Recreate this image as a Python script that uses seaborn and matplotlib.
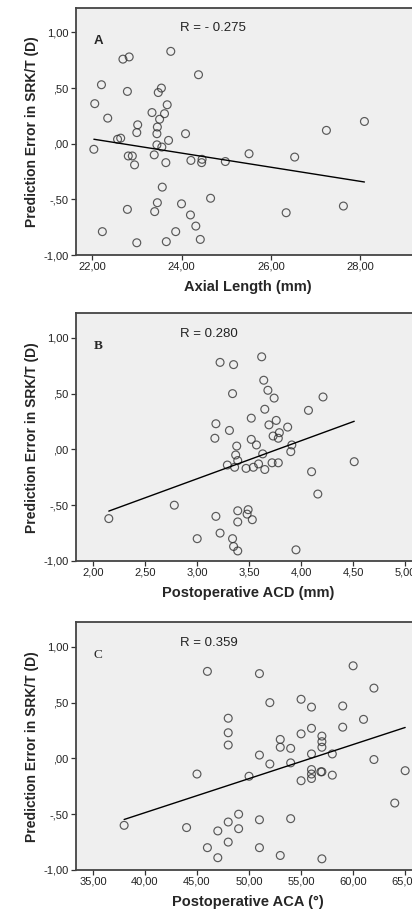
import numpy as np
import pandas as pd
import seaborn as sns
from matplotlib import pyplot as plt

# panel A: axial length vs prediction error
axial_length = [22.04, 22.06, 22.21, 22.35, 22.23, 22.57, 22.64, 22.69, 22.83, 22.79,
                22.81, 22.90, 22.95, 22.79, 23.02, 23.00, 23.00, 23.34, 23.39, 23.40,
                23.45, 23.46, 23.45, 23.46, 23.48, 23.51, 23.55, 23.56, 23.57, 23.62,
                23.68, 23.65, 23.71, 23.66, 23.76, 23.87, 24.00, 24.09, 24.20, 24.21,
                24.32, 24.38, 24.42, 24.46, 24.45, 24.65, 24.98, 25.51, 26.34, 26.53,
                27.24, 27.62, 28.09]
pe_a = [-0.05, 0.36, 0.53, 0.23, -0.79, 0.04, 0.05, 0.76, 0.78, 0.47,
        -0.11, -0.11, -0.19, -0.59, 0.17, 0.10, -0.89, 0.28, -0.10, -0.61,
        0.09, 0.15, -0.01, -0.53, 0.46, 0.22, 0.50, -0.03, -0.39, 0.27,
        0.35, -0.17, 0.03, -0.88, 0.83, -0.79, -0.54, 0.09, -0.64, -0.15,
        -0.74, 0.62, -0.86, -0.14, -0.17, -0.49, -0.16, -0.09, -0.62, -0.12,
        0.12, -0.56, 0.20]

# panel B: postoperative ACD
acd = [2.15, 2.78, 3.00, 3.18, 3.17, 3.18, 3.22, 3.22, 3.31, 3.29,
       3.34, 3.35, 3.34, 3.35, 3.36, 3.37, 3.38, 3.39, 3.39, 3.39,
       3.39, 3.47, 3.48, 3.49, 3.52, 3.52, 3.53, 3.54, 3.57, 3.59,
       3.62, 3.63, 3.64, 3.65, 3.65, 3.68, 3.69, 3.72, 3.73, 3.74,
       3.76, 3.78, 3.79, 3.78, 3.87, 3.90, 3.91, 3.95, 4.07, 4.10,
       4.16, 4.21, 4.51]
pe_b = [-0.62, -0.50, -0.80, 0.23, 0.10, -0.60, 0.78, -0.75, 0.17, -0.14,
        0.50, 0.76, -0.80, -0.87, -0.16, -0.05, 0.03, -0.55, -0.65, -0.91,
        -0.10, -0.17, -0.58, -0.54, 0.28, 0.09, -0.63, -0.16, 0.04, -0.13,
        0.83, -0.04, 0.62, 0.36, -0.18, 0.53, 0.22, -0.12, 0.12, 0.46,
        0.26, 0.10, 0.15, -0.12, 0.20, -0.02, 0.04, -0.90, 0.35, -0.20,
        -0.40, 0.47, -0.11]

# panel C: postoperative ACA
aca = [38.0, 44.0, 45.0, 46.0, 46.0, 47.0, 47.0, 48.0, 48.0, 48.0,
       48.0, 48.0, 49.0, 49.0, 50.0, 51.0, 51.0, 51.0, 51.0, 52.0,
       52.0, 53.0, 53.0, 53.0, 54.0, 54.0, 54.0, 55.0, 55.0, 55.0,
       56.0, 56.0, 56.0, 56.0, 56.0, 56.0, 57.0, 57.0, 57.0, 57.0,
       57.0, 56.9, 58.0, 58.0, 59.0, 59.0, 60.0, 61.0, 62.0, 62.0,
       64.0, 65.0]
pe_c = [-0.60, -0.62, -0.14, 0.78, -0.80, -0.65, -0.89, 0.36, 0.23, 0.12,
        -0.57, -0.75, -0.50, -0.63, -0.16, 0.76, 0.03, -0.55, -0.80, 0.50,
        -0.05, 0.17, 0.10, -0.87, 0.09, -0.04, -0.54, 0.53, 0.22, -0.20,
        0.46, 0.27, 0.04, -0.10, -0.14, -0.18, 0.20, 0.15, 0.10, -0.12,
        -0.90, -0.12, 0.04, -0.15, 0.47, 0.28, 0.83, 0.35, 0.63, -0.01,
        -0.40, -0.11]

y_ticks = [-1.0, -0.5, 0.0, 0.5, 1.0]
y_ticklabels = ['-1,00', '-,50', ',00', ',50', '1,00']
xticks_a = [22, 24, 26, 28]
xticklabels_a = ['22,00', '24,00', '26,00', '28,00']
xticks_b = [2.0, 2.5, 3.0, 3.5, 4.0, 4.5, 5.0]
xticklabels_b = ['2,00', '2,50', '3,00', '3,50', '4,00', '4,50', '5,00']
xticks_c = [35, 40, 45, 50, 55, 60, 65]
xticklabels_c = ['35,00', '40,00', '45,00', '50,00', '55,00', '60,00', '65,00']

sns.set_style('ticks')
plt.rcParams['font.family'] = ['Liberation Sans', 'DejaVu Sans']

fig = plt.figure(figsize=(4.12, 9.15), dpi=100)

panels = [
    # x, y, xlim, ticks, labels, xlabel, R text, letter, letter font, axes rect
    (axial_length, pe_a, (21.63, 29.35), xticks_a, xticklabels_a, 'Axial Length (mm)',
     'R = - 0.275', 'A', dict(family='Liberation Sans', weight='bold'), [0.1833, 0.7213, 0.838, 0.270]),
    (acd, pe_b, (1.83, 5.15), xticks_b, xticklabels_b, 'Postoperative ACD (mm)',
     'R = 0.280', 'B', dict(family='Liberation Serif', weight='bold'), [0.1833, 0.3869, 0.838, 0.2707]),
    (aca, pe_c, (33.33, 66.5), xticks_c, xticklabels_c, 'Postoperative ACA (°)',
     'R = 0.359', 'C', dict(family='Liberation Serif', weight='normal'), [0.1833, 0.0492, 0.838, 0.2707]),
]

for x, y, xlim, xt, xtl, xlabel, rtext, letter, lfont, rect in panels:
    ax = fig.add_axes(rect)
    df = pd.DataFrame({'x': x, 'y': y})
    sns.regplot(data=df, x='x', y='y', ax=ax, ci=None, color='#333333',
                scatter_kws={'facecolors': 'none', 'edgecolors': '#333333', 's': 32, 'linewidths': 0.85},
                line_kws={'color': 'black', 'lw': 1.0})
    ax.set_facecolor('#efefef')
    ax.set_xlim(*xlim)
    ax.set_ylim(-1.0, 1.22)
    ax.set_xticks(xt)
    ax.set_xticklabels(xtl)
    ax.set_yticks(y_ticks)
    ax.set_yticklabels(y_ticklabels)
    ax.tick_params(axis='both', labelsize=8, length=3.5, width=0.9, pad=1.5,
                   color='#333333', labelcolor='#222222')
    for side in ['left', 'bottom', 'top']:
        ax.spines[side].set_visible(True)
        ax.spines[side].set_color('#444444')
        ax.spines[side].set_linewidth(1.3)
    ax.spines['right'].set_visible(False)
    ax.set_xlabel(xlabel, fontsize=10.5, fontweight='bold', labelpad=6)
    ax.set_ylabel('Prediction Error in SRK/T (D)', fontsize=10, fontweight='bold', labelpad=3)
    ax.text(0.303, 0.917, rtext, transform=ax.transAxes, fontsize=9.5, va='center', color='#222222')
    ax.text(0.052, 0.866, letter, transform=ax.transAxes, fontsize=9.5, va='center', **lfont)

plt.savefig('out.png', dpi=100)
